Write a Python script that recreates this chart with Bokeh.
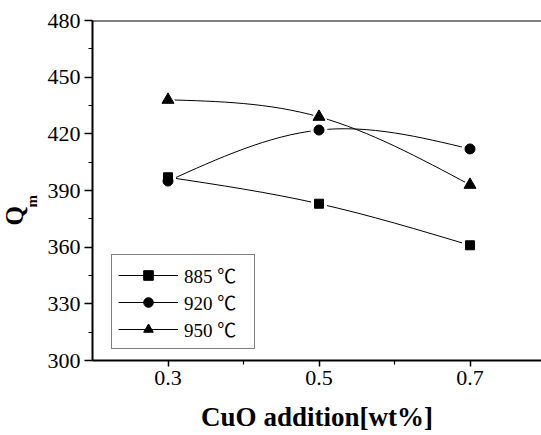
import numpy as np
from bokeh.plotting import figure
from bokeh.models import Range1d, FixedTicker, Span, Title, Legend, LegendItem
from bokeh.embed import file_html
from bokeh.resources import INLINE

# ---- data ----
cuo = [0.3, 0.5, 0.7]
q885 = [397, 383, 361]
q920 = [395, 422, 412]
q950 = [438, 429, 393]
series_labels = ["885 ℃", "920 ℃", "950 ℃"]
markers = ["square", "circle", "triangle"]
marker_sizes = [9, 10, 12]
y_ticks = [300, 330, 360, 390, 420, 450, 480]
y_minor = [315, 345, 375, 405, 435, 465]
x_ticks = [0.3, 0.5, 0.7]
x_minor = [0.4, 0.6]

SERIF = "Liberation Serif, 'Noto Sans CJK JP'"


def spline_beziers(xs, ys):
    """Natural cubic spline through the points, returned as cubic Bezier segments."""
    x = np.asarray(xs, float)
    y = np.asarray(ys, float)
    n = len(x)
    h = np.diff(x)
    A = np.zeros((n, n))
    b = np.zeros(n)
    A[0, 0] = 1.0
    A[-1, -1] = 1.0
    for i in range(1, n - 1):
        A[i, i - 1] = h[i - 1]
        A[i, i] = 2 * (h[i - 1] + h[i])
        A[i, i + 1] = h[i]
        b[i] = 6 * ((y[i + 1] - y[i]) / h[i] - (y[i] - y[i - 1]) / h[i - 1])
    M = np.linalg.solve(A, b)
    d0 = (y[1:] - y[:-1]) / h - h * (2 * M[:-1] + M[1:]) / 6
    d1 = (y[1:] - y[:-1]) / h + h * (M[:-1] + 2 * M[1:]) / 6
    return dict(
        x0=x[:-1], y0=y[:-1], x1=x[1:], y1=y[1:],
        cx0=x[:-1] + h / 3, cy0=y[:-1] + d0 * h / 3,
        cx1=x[1:] - h / 3, cy1=y[1:] - d1 * h / 3,
    )


p = figure(width=541, height=435, output_backend="svg", toolbar_location=None,
           x_range=Range1d(0.2, 0.7947), y_range=Range1d(300, 480),
           min_border_left=92, min_border_right=0, min_border_top=20,
           min_border_bottom=75)
p.outline_line_color = None
p.xgrid.visible = False
p.ygrid.visible = False
p.background_fill_color = "white"

for ax, ticks, minor, out_major in ((p.xaxis[0], x_ticks, x_minor, 6), (p.yaxis[0], y_ticks, y_minor, 8)):
    ax.ticker = FixedTicker(ticks=ticks, minor_ticks=minor)
    ax.axis_line_width = 2
    ax.axis_line_color = "black"
    ax.major_tick_line_width = 1.5
    ax.minor_tick_line_width = 1.2
    ax.major_tick_in = 0
    ax.major_tick_out = out_major
    ax.minor_tick_in = 0
    ax.minor_tick_out = 4
    ax.major_label_text_font = "Liberation Serif"
    ax.major_label_text_font_size = "22px"
    ax.major_label_text_color = "black"
    ax.major_label_standoff = 4

p.xaxis.axis_label = "CuO addition[wt%]"
p.xaxis.axis_label_text_font = "Liberation Serif"
p.xaxis.axis_label_text_font_style = "bold"
p.xaxis.axis_label_text_font_size = "27px"
p.xaxis.axis_label_text_color = "black"
p.xaxis.axis_label_standoff = 14

p.add_layout(Span(location=480, dimension="width", line_color="black", line_width=2))

all_series = [q885, q920, q950]
curves = []
for ys in all_series:
    curves.append(p.bezier(line_color="black", line_width=1, **spline_beziers(cuo, ys)))

for ys, mk, sz in zip(all_series, markers, marker_sizes):
    p.scatter(cuo, ys, marker=mk, size=sz + 6, fill_color="white", line_color="white")

items = []
for ys, mk, sz, lab, cr in zip(all_series, markers, marker_sizes, series_labels, curves):
    r = p.scatter(cuo, ys, marker=mk, size=sz, fill_color="black", line_color="black")
    items.append(LegendItem(label=lab, renderers=[cr, r]))

legend = Legend(items=items, location=(19, 11), margin=0, padding=6, spacing=0,
                glyph_height=24, glyph_width=60, label_standoff=6, label_height=24,
                label_width=64,
                label_text_font=SERIF, label_text_font_size="19px", label_text_color="black",
                border_line_color="black", border_line_width=1,
                background_fill_color="white", background_fill_alpha=1)
p.add_layout(legend, "center")

# y-axis title: Q with subscript m (two stacked side titles)
p.add_layout(Title(text="m", align="left", offset=153, standoff=7, vertical_align="middle",
                   text_font="Liberation Serif", text_font_style="bold",
                   text_font_size="15px", text_color="black"), "left")
p.add_layout(Title(text="Q", align="left", offset=135, standoff=-18, vertical_align="middle",
                   text_font="Liberation Serif", text_font_style="bold",
                   text_font_size="25px", text_color="black"), "left")

open("out.html", "w").write(file_html(p, INLINE))
